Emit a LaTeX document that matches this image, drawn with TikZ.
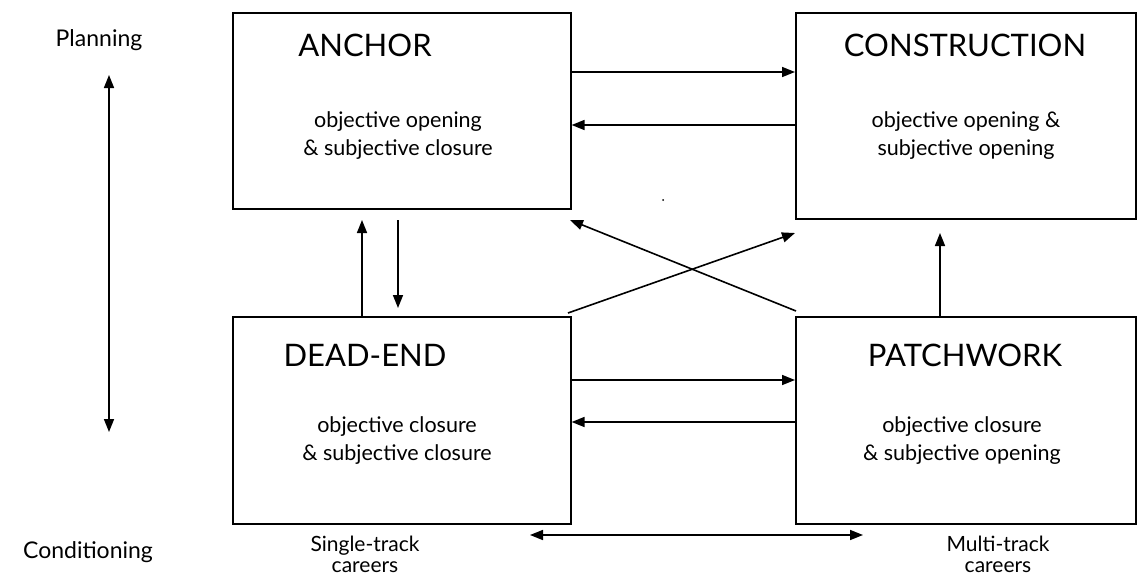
\documentclass[tikz,border=0pt]{standalone}
\usepackage{fontspec}
\setmainfont{Lato}
\usetikzlibrary{arrows.meta}
\begin{document}
\begin{tikzpicture}[x=1pt,y=-1pt,
  box/.style={draw,line width=1.6pt,inner sep=0pt,anchor=north west},
  title/.style={font=\fontsize{31}{34}\selectfont},
  body/.style={font=\fontsize{21.5}{28}\selectfont,align=center},
  lab/.style={font=\fontsize{23}{24}\selectfont,align=center},
  blab/.style={font=\fontsize{21}{21}\selectfont,align=center,inner sep=0pt},
  arr/.style={line width=1.6pt,-{Triangle[length=13pt,width=10pt]}},
  darr/.style={line width=1.6pt,{Triangle[length=13pt,width=10pt]}-{Triangle[length=13pt,width=10pt]}}]
\useasboundingbox (0,0) rectangle (1146,576);
% boxes
\node[box,minimum width=338pt,minimum height=196pt] (A) at (232,12) {};
\node[box,minimum width=340pt,minimum height=206pt] (C) at (795,12) {};
\node[box,minimum width=338pt,minimum height=207pt] (D) at (232,316) {};
\node[box,minimum width=340pt,minimum height=207pt] (P) at (795,316) {};
% titles
\node[title] (At) at (365,45) {ANCHOR};
\node[title] (Ct) at (965,45) {CONSTRUCTION};
\node[title] (Dt) at (365,355) {DEAD-END};
\node[title] (Pt) at (965,355) {PATCHWORK};
% bodies
\node[body] (Ab) at (398,136) {objective opening\\\& subjective closure};
\node[body] (Cb) at (966,136) {objective opening \&\\subjective opening};
\node[body] (Db) at (397,441) {objective closure\\\& subjective closure};
\node[body] (Pb) at (962,441) {objective closure\\\& subjective opening};
% side labels
\node[lab] (pl) at (99,40) {Planning};
\node[lab] (co) at (88,552) {Conditioning};
\node[blab] (st) at (365,554) {Single-track\\careers};
\node[blab] (mt) at (998,554) {Multi-track\\careers};
\node[inner sep=0pt,minimum size=2pt,fill,circle] (dot) at (663,200) {};
% coordinates
\coordinate (v1) at (109,75);
\coordinate (v2) at (109,432);
\coordinate (h1) at (530,535);
\coordinate (h2) at (863,535);
\coordinate (u1) at (362,220);
\coordinate (d0) at (398,220);
\coordinate (d1) at (398,308);
\coordinate (pc) at (940,233);
\coordinate (dc0) at (568,313);
\coordinate (dc1) at (795,233);
\coordinate (pa0) at (796,311);
\coordinate (pa1) at (570,220);
% arrows
\draw[arr] (A.east |- 0,72) -- (C.west |- 0,72);
\draw[arr] (C.west |- 0,125) -- (A.east |- 0,125);
\draw[arr] (D.east |- 0,380) -- (P.west |- 0,380);
\draw[arr] (P.west |- 0,422) -- (D.east |- 0,422);
\draw[arr] (D.north -| u1) -- (u1);
\draw[arr] (d0) -- (d1);
\draw[arr] (P.north -| pc) -- (pc);
\draw[arr] (dc0) -- (dc1);
\draw[arr] (pa0) -- (pa1);
\draw[darr] (v1) -- (v2);
\draw[darr] (h1) -- (h2);
\end{tikzpicture}
\end{document}
